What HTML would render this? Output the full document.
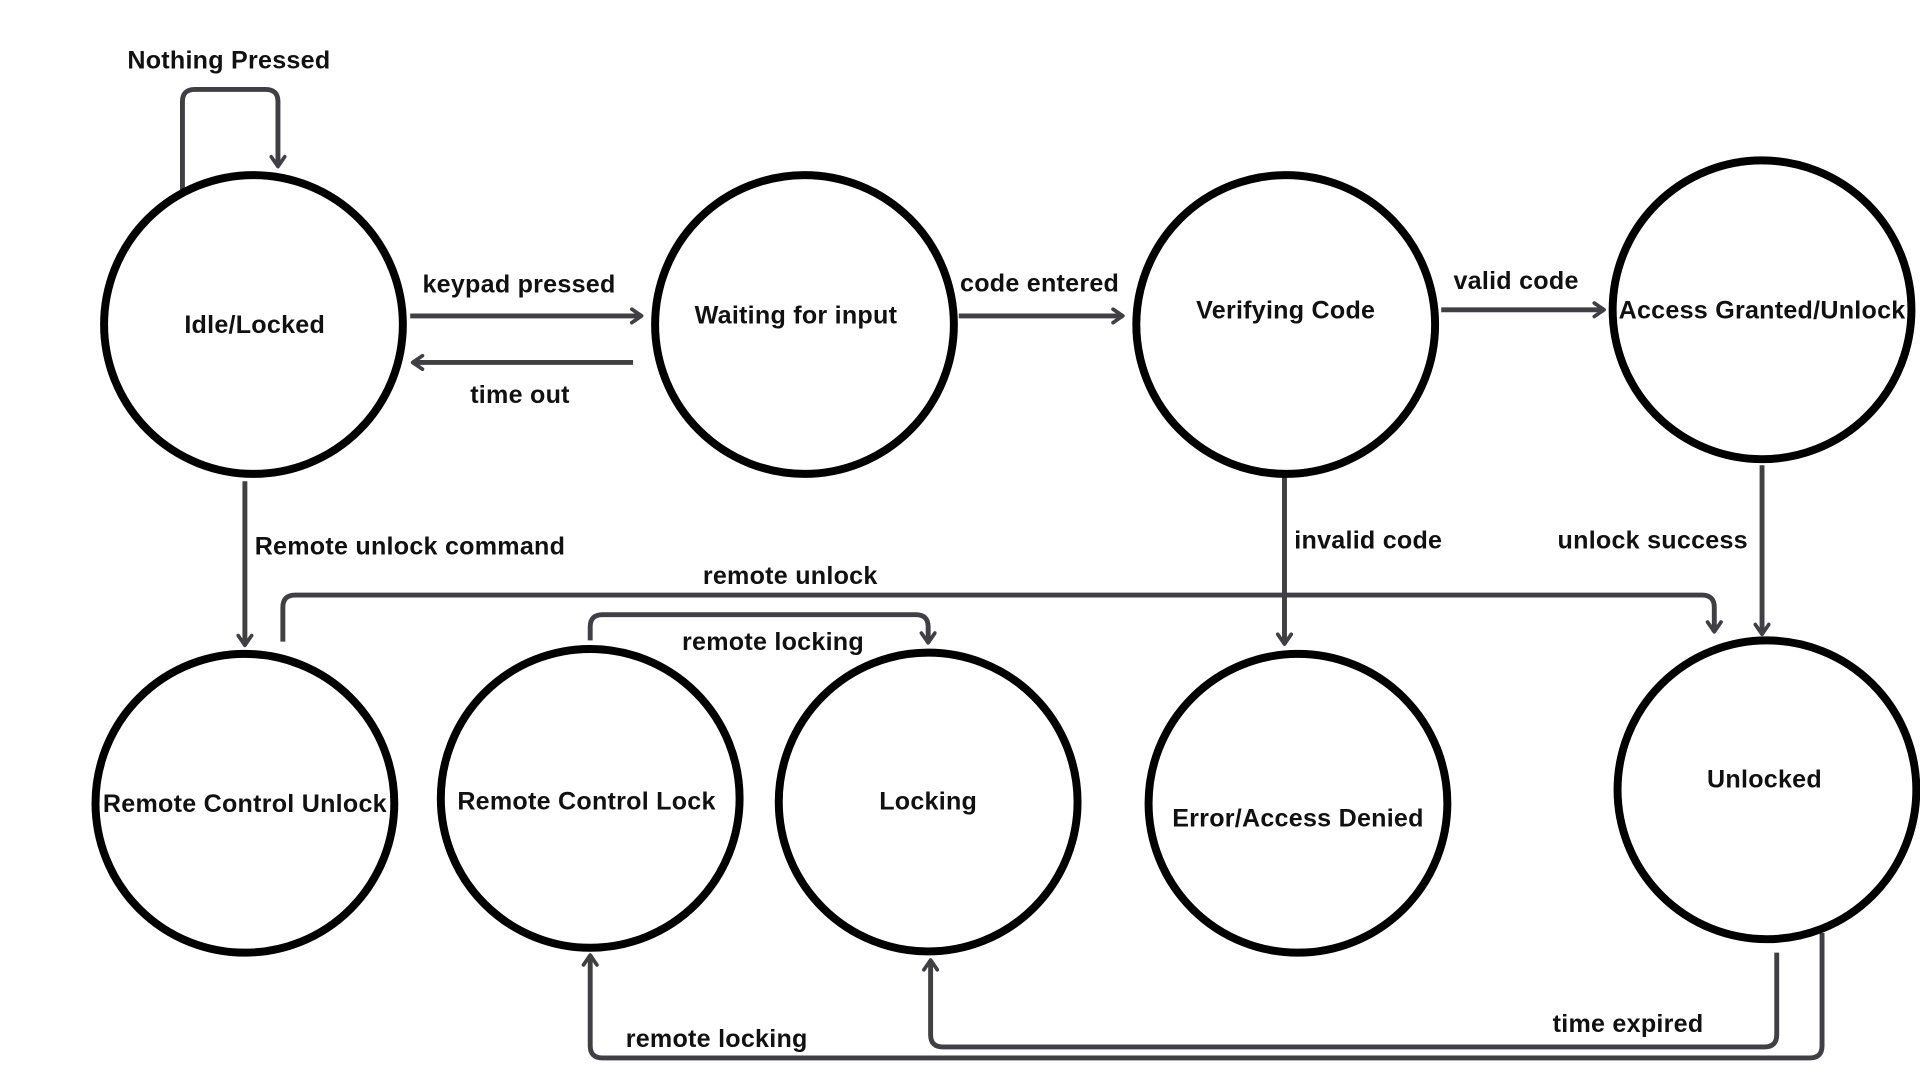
<!DOCTYPE html>
<html><head><meta charset="utf-8"><style>
html,body{margin:0;padding:0;background:#fff;}
svg{display:block;}
text{font-family:"Liberation Sans",sans-serif;font-weight:bold;font-size:20.5px;letter-spacing:0.2px;fill:#111;}
</style></head><body>
<svg width="1920" height="1080" viewBox="0 0 1568 882" preserveAspectRatio="none" xmlns="http://www.w3.org/2000/svg">
<defs>
<marker id="a" viewBox="0 0 14 14" refX="11" refY="7" markerWidth="14" markerHeight="14" markerUnits="userSpaceOnUse" orient="auto">
<path d="M3,1.5 L11,7 L3,12.5" fill="none" stroke="#3f3f44" stroke-width="3" stroke-linecap="round" stroke-linejoin="round"/>
</marker>
</defs>
<g fill="none" stroke="#3f3f44" stroke-width="4" stroke-linejoin="round" marker-end="url(#a)">
<path d="M149,158 V83 Q149,73 159,73 H217 Q227,73 227,83 V136"/>
<path d="M335,258 H524"/>
<path d="M517,296 H337"/>
<path d="M783,258 H917"/>
<path d="M1177,253 H1310"/>
<path d="M200,393 V527"/>
<path d="M1049,388 V526"/>
<path d="M1439,380 V518"/>
<path d="M231,524 V496 Q231,486 241,486 H1390 Q1400,486 1400,496 V516"/>
<path d="M482,523 V512 Q482,502 492,502 H748 Q758,502 758,512 V525"/>
<path d="M1451,778 V845 Q1451,855 1441,855 H770 Q760,855 760,845 V784"/>
<path d="M1488,762 V854 Q1488,864 1478,864 H492 Q482,864 482,854 V780"/>
</g>
<g fill="none" stroke="#000" stroke-width="6.5">
<circle cx="207" cy="265" r="122"/>
<circle cx="657" cy="265" r="122"/>
<circle cx="1050" cy="265" r="122"/>
<circle cx="1439" cy="253" r="122"/>
<circle cx="200" cy="656" r="122"/>
<circle cx="482" cy="652" r="122"/>
<circle cx="758" cy="655" r="122"/>
<circle cx="1060" cy="656" r="122"/>
<circle cx="1443" cy="645" r="122"/>
</g>
<g text-anchor="middle">
<text x="208" y="272">Idle/Locked</text>
<text x="650" y="264">Waiting for input</text>
<text x="1050" y="260">Verifying Code</text>
<text x="1439" y="260">Access Granted/Unlock</text>
<text x="200" y="663">Remote Control Unlock</text>
<text x="479" y="661">Remote Control Lock</text>
<text x="758" y="661">Locking</text>
<text x="1060" y="675">Error/Access Denied</text>
<text x="1441" y="643">Unlocked</text>
</g>
<text x="104" y="56">Nothing Pressed</text>
<text x="345" y="239">keypad pressed</text>
<text x="384" y="329">time out</text>
<text x="784" y="238">code entered</text>
<text x="1187" y="236">valid code</text>
<text x="208" y="453">Remote unlock command</text>
<text x="1057" y="448">invalid code</text>
<text x="1272" y="448">unlock success</text>
<text x="574" y="477">remote unlock</text>
<text x="557" y="531">remote locking</text>
<text x="1268" y="843">time expired</text>
<text x="511" y="855">remote locking</text>
</svg>
</body></html>
